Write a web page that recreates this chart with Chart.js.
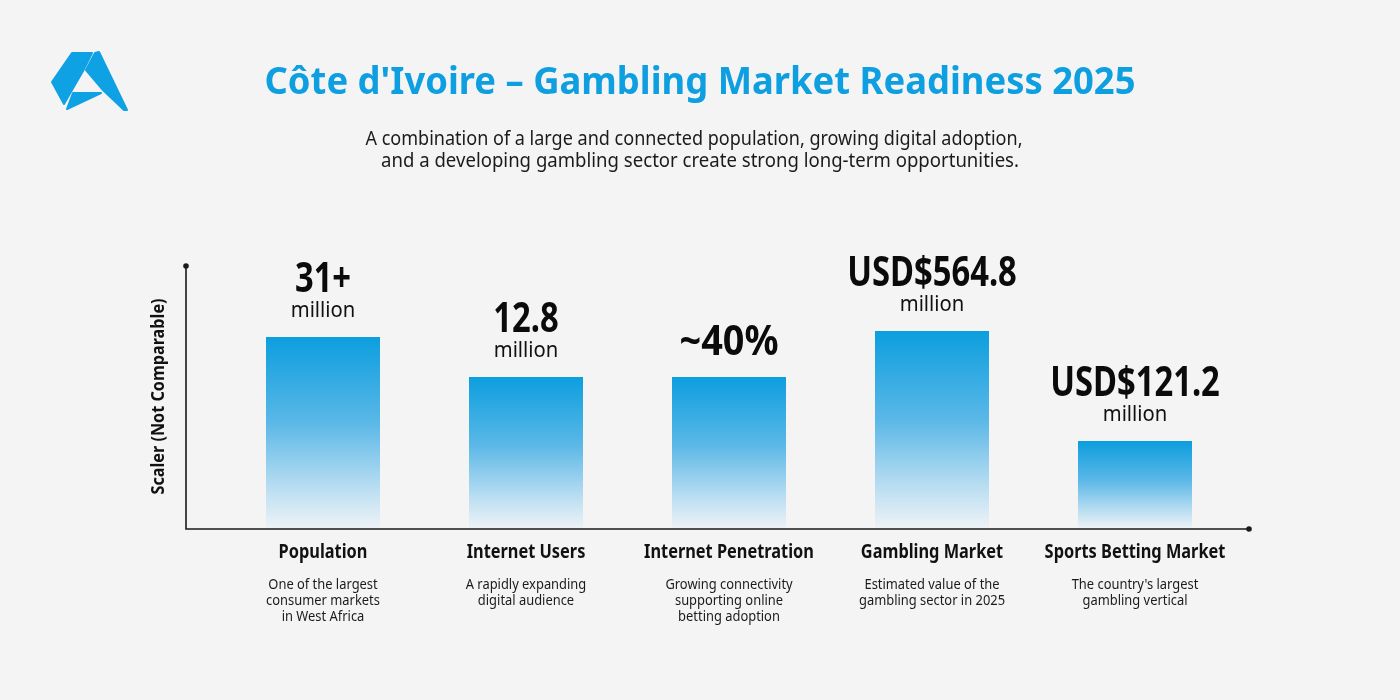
<!DOCTYPE html>
<html>
<head>
<meta charset="utf-8">
<script src="https://cdn.jsdelivr.net/npm/chart.js@4.4.1/dist/chart.umd.min.js"></script>
<style>
  html, body { margin: 0; padding: 0; background: #f4f4f4; }
  #wrap { width: 1400px; height: 700px; }
</style>
</head>
<body>
<div id="wrap"><canvas id="readiness" width="1400" height="700"></canvas></div>
<script>
// chart data
const categories = ["Population", "Internet Users", "Internet Penetration", "Gambling Market", "Sports Betting Market"];
const descriptions = [
  ["One of the largest", "consumer markets", "in West Africa"],
  ["A rapidly expanding", "digital audience"],
  ["Growing connectivity", "supporting online", "betting adoption"],
  ["Estimated value of the", "gambling sector in 2025"],
  ["The country's largest", "gambling vertical"]
];
const valueLabels = ["31+", "12.8", "~40%", "USD$564.8", "USD$121.2"];
const unitLabels = ["million", "million", "", "million", "million"];
const scalerValues = [73, 57.8, 57.8, 75.3, 33.5]; // visual scale only, not comparable
const yMax = 100;

const title = "Côte d'Ivoire – Gambling Market Readiness 2025";
const subtitle = [
  "A combination of a large and connected population, growing digital adoption,",
  "and a developing gambling sector create strong long-term opportunities."
];
const yTitle = "Scaler (Not Comparable)";

const FONT = "'Noto Sans', 'Open Sans', sans-serif";
const BLUE = "#0e9fe0";

function drawText(ctx, str, x, y, font, color, sx, maxW) {
  ctx.save();
  ctx.font = font;
  ctx.fillStyle = color;
  ctx.textAlign = "center";
  ctx.textBaseline = "middle";
  ctx.translate(x, y);
  ctx.scale(sx, 1);
  if (maxW) ctx.fillText(str, 0, 0, maxW / sx);
  else ctx.fillText(str, 0, 0);
  ctx.restore();
}

function barGradient(context) {
  const chart = context.chart;
  const y = chart.scales.y;
  if (!chart.chartArea || !y) return BLUE;
  const top = y.getPixelForValue(context.raw);
  const bottom = y.getPixelForValue(0);
  const g = chart.ctx.createLinearGradient(0, top, 0, bottom);
  g.addColorStop(0, "#0c9edf");
  g.addColorStop(0.45, "#5bb8e7");
  g.addColorStop(0.8, "#bddff2");
  g.addColorStop(1, "#eff3f6");
  return g;
}

// logo pieces (decoration only)
const logoPieces = [
  [[72, 53], [92, 53], [83, 71], [72, 90], [64, 104], [52, 82]],
  [[86, 70], [95, 53], [99, 52], [127, 110], [124, 110], [103, 90]],
  [[73, 93], [101, 93], [67, 109]]
];

const decorations = {
  id: "decorations",
  afterDraw(chart) {
    const ctx = chart.ctx;
    const area = chart.chartArea;
    const xs = chart.scales.x;
    const meta = chart.getDatasetMeta(0);

    // logo
    ctx.save();
    ctx.fillStyle = "#0ea1e3";
    ctx.strokeStyle = "#0ea1e3";
    ctx.lineJoin = "round";
    ctx.lineWidth = 2;
    logoPieces.forEach((pts) => {
      ctx.beginPath();
      pts.forEach((p, i) => (i ? ctx.lineTo(p[0], p[1]) : ctx.moveTo(p[0], p[1])));
      ctx.closePath();
      ctx.fill();
      ctx.stroke();
    });
    ctx.restore();

    // title + subtitle
    drawText(ctx, title, 700, 83, "bold 38px " + FONT, BLUE, 1, 871);
    drawText(ctx, subtitle[0], 694, 140, "19px " + FONT, "#1b1b1b", 1, 657);
    drawText(ctx, subtitle[1], 700, 162, "19px " + FONT, "#1b1b1b", 1, 638);

    // axes
    const x0 = area.left - 35.5;
    const x1 = area.right + 12.5;
    ctx.save();
    ctx.strokeStyle = "#1a1a1a";
    ctx.lineWidth = 1.6;
    ctx.beginPath();
    ctx.moveTo(x0, area.top);
    ctx.lineTo(x0, area.bottom);
    ctx.lineTo(x1, area.bottom);
    ctx.stroke();
    ctx.fillStyle = "#1a1a1a";
    ctx.beginPath();
    ctx.arc(x0, area.top, 2.8, 0, Math.PI * 2);
    ctx.arc(x1, area.bottom, 2.8, 0, Math.PI * 2);
    ctx.fill();
    ctx.restore();

    // y axis title
    ctx.save();
    ctx.translate(159, (area.top + area.bottom) / 2 - 1);
    ctx.rotate(-Math.PI / 2);
    drawText(ctx, yTitle, 0, 0, "bold 18px " + FONT, "#111", 0.9);
    ctx.restore();

    // value labels and category labels
    meta.data.forEach((bar, i) => {
      const cx = xs.getPixelForValue(i);
      if (unitLabels[i]) {
        drawText(ctx, valueLabels[i], cx, bar.y - 57, "bold 42px " + FONT, "#0b0b0b", 0.78);
        drawText(ctx, unitLabels[i], cx, bar.y - 26, "22px " + FONT, "#111", 0.92);
      } else {
        drawText(ctx, valueLabels[i], cx, bar.y - 34, "bold 42px " + FONT, "#0b0b0b", 0.9);
      }
      drawText(ctx, categories[i], cx, area.bottom + 24, "bold 19px " + FONT, "#111", 0.86);
      descriptions[i].forEach((line, j) => {
        drawText(ctx, line, cx, area.bottom + 56 + j * 16, "15px " + FONT, "#1b1b1b", 0.86);
      });
    });
  }
};

new Chart(document.getElementById("readiness"), {
  type: "bar",
  data: {
    labels: categories,
    datasets: [{
      data: scalerValues,
      backgroundColor: barGradient,
      borderWidth: 0,
      barPercentage: 0.5616,
      categoryPercentage: 1
    }]
  },
  options: {
    responsive: false,
    animation: false,
    layout: { padding: { left: 221.5, right: 163.5, top: 266, bottom: 171 } },
    plugins: { legend: { display: false }, tooltip: { enabled: false }, title: { display: false } },
    scales: {
      x: { display: false },
      y: { display: false, min: 0, max: yMax }
    }
  },
  plugins: [decorations]
});
</script>
</body>
</html>
